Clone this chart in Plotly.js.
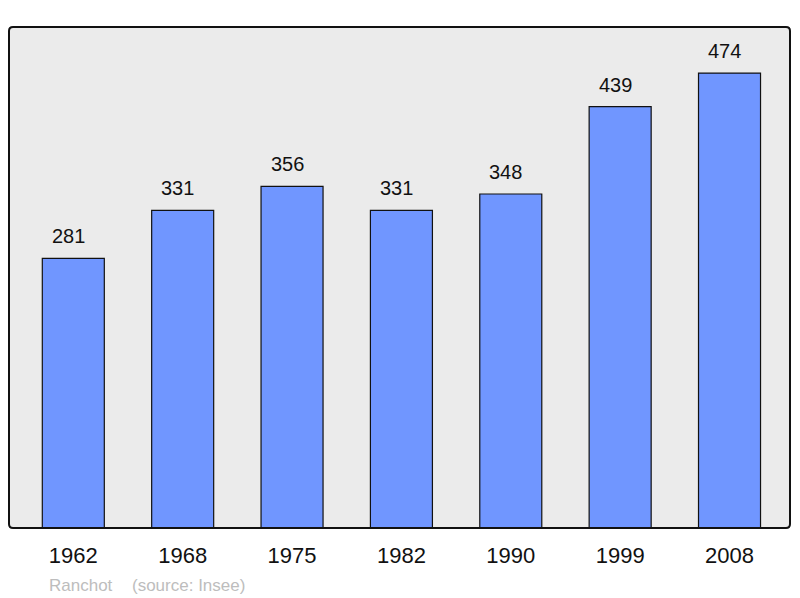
<!DOCTYPE html>
<html><head><meta charset="utf-8">
<script src="https://cdn.plot.ly/plotly-3.0.1.min.js"></script>
<style>body{margin:0;background:#fff}#c{width:800px;height:598px}</style>
</head><body><div id="c"></div>
<script>
var years = ["1962","1968","1975","1982","1990","1999","2008"];
var population = [281, 331, 356, 331, 348, 439, 474];
var footerLeft = "Ranchot";
var footerRight = "(source: Insee)";

var FONT = "Liberation Sans, Arial, sans-serif";
var trace = {
  type: "bar", x: years, y: population, width: 0.567,
  marker: {color: "#7096ff", line: {color: "#111", width: 1.2}},
  hoverinfo: "none"
};
var ann = years.map(function(y, i){
  return {x: i, y: population[i], xref: "x", yref: "y", text: String(population[i]),
    showarrow: false, yanchor: "bottom", yshift: 9, xshift: -5,
    font: {family: FONT, size: 20, color: "#111"}};
});
ann.push({xref: "paper", yref: "paper", x: (47-9)/781, y: -(585-528)/501, xanchor: "left", yanchor: "middle",
  text: footerLeft, showarrow: false, font: {family: FONT, size: 17, color: "#bdbdbd"}});
ann.push({xref: "paper", yref: "paper", x: (130-9)/781, y: -(585-528)/501, xanchor: "left", yanchor: "middle",
  text: footerRight, showarrow: false, font: {family: FONT, size: 17, color: "#bdbdbd"}});

var rx = 4/781, ry = 4/501;
var framePath = "M " + rx + " 0 L " + (1-rx) + " 0 Q 1 0 1 " + ry +
  " L 1 " + (1-ry) + " Q 1 1 " + (1-rx) + " 1 L " + rx + " 1 Q 0 1 0 " + (1-ry) +
  " L 0 " + ry + " Q 0 0 " + rx + " 0 Z";

var layout = {
  width: 800, height: 598,
  margin: {l: 9, r: 10, t: 27, b: 70, pad: 0},
  paper_bgcolor: "#ffffff", plot_bgcolor: "#ebebeb",
  showlegend: false,
  xaxis: {type: "category", range: [-0.588, 6.553], showgrid: false, zeroline: false,
    ticks: "", showline: false, fixedrange: true, ticklabelstandoff: 12,
    tickfont: {family: FONT, size: 22, color: "#111"}},
  yaxis: {range: [0, 522], showgrid: false, zeroline: false, showticklabels: false, ticks: "", showline: false},
  annotations: ann,
  shapes: [{type: "path", xref: "paper", yref: "paper", path: framePath,
    line: {color: "#111", width: 2}, layer: "above"}]
};
Plotly.newPlot("c", [trace], layout, {displayModeBar: false, staticPlot: true});
</script></body></html>
